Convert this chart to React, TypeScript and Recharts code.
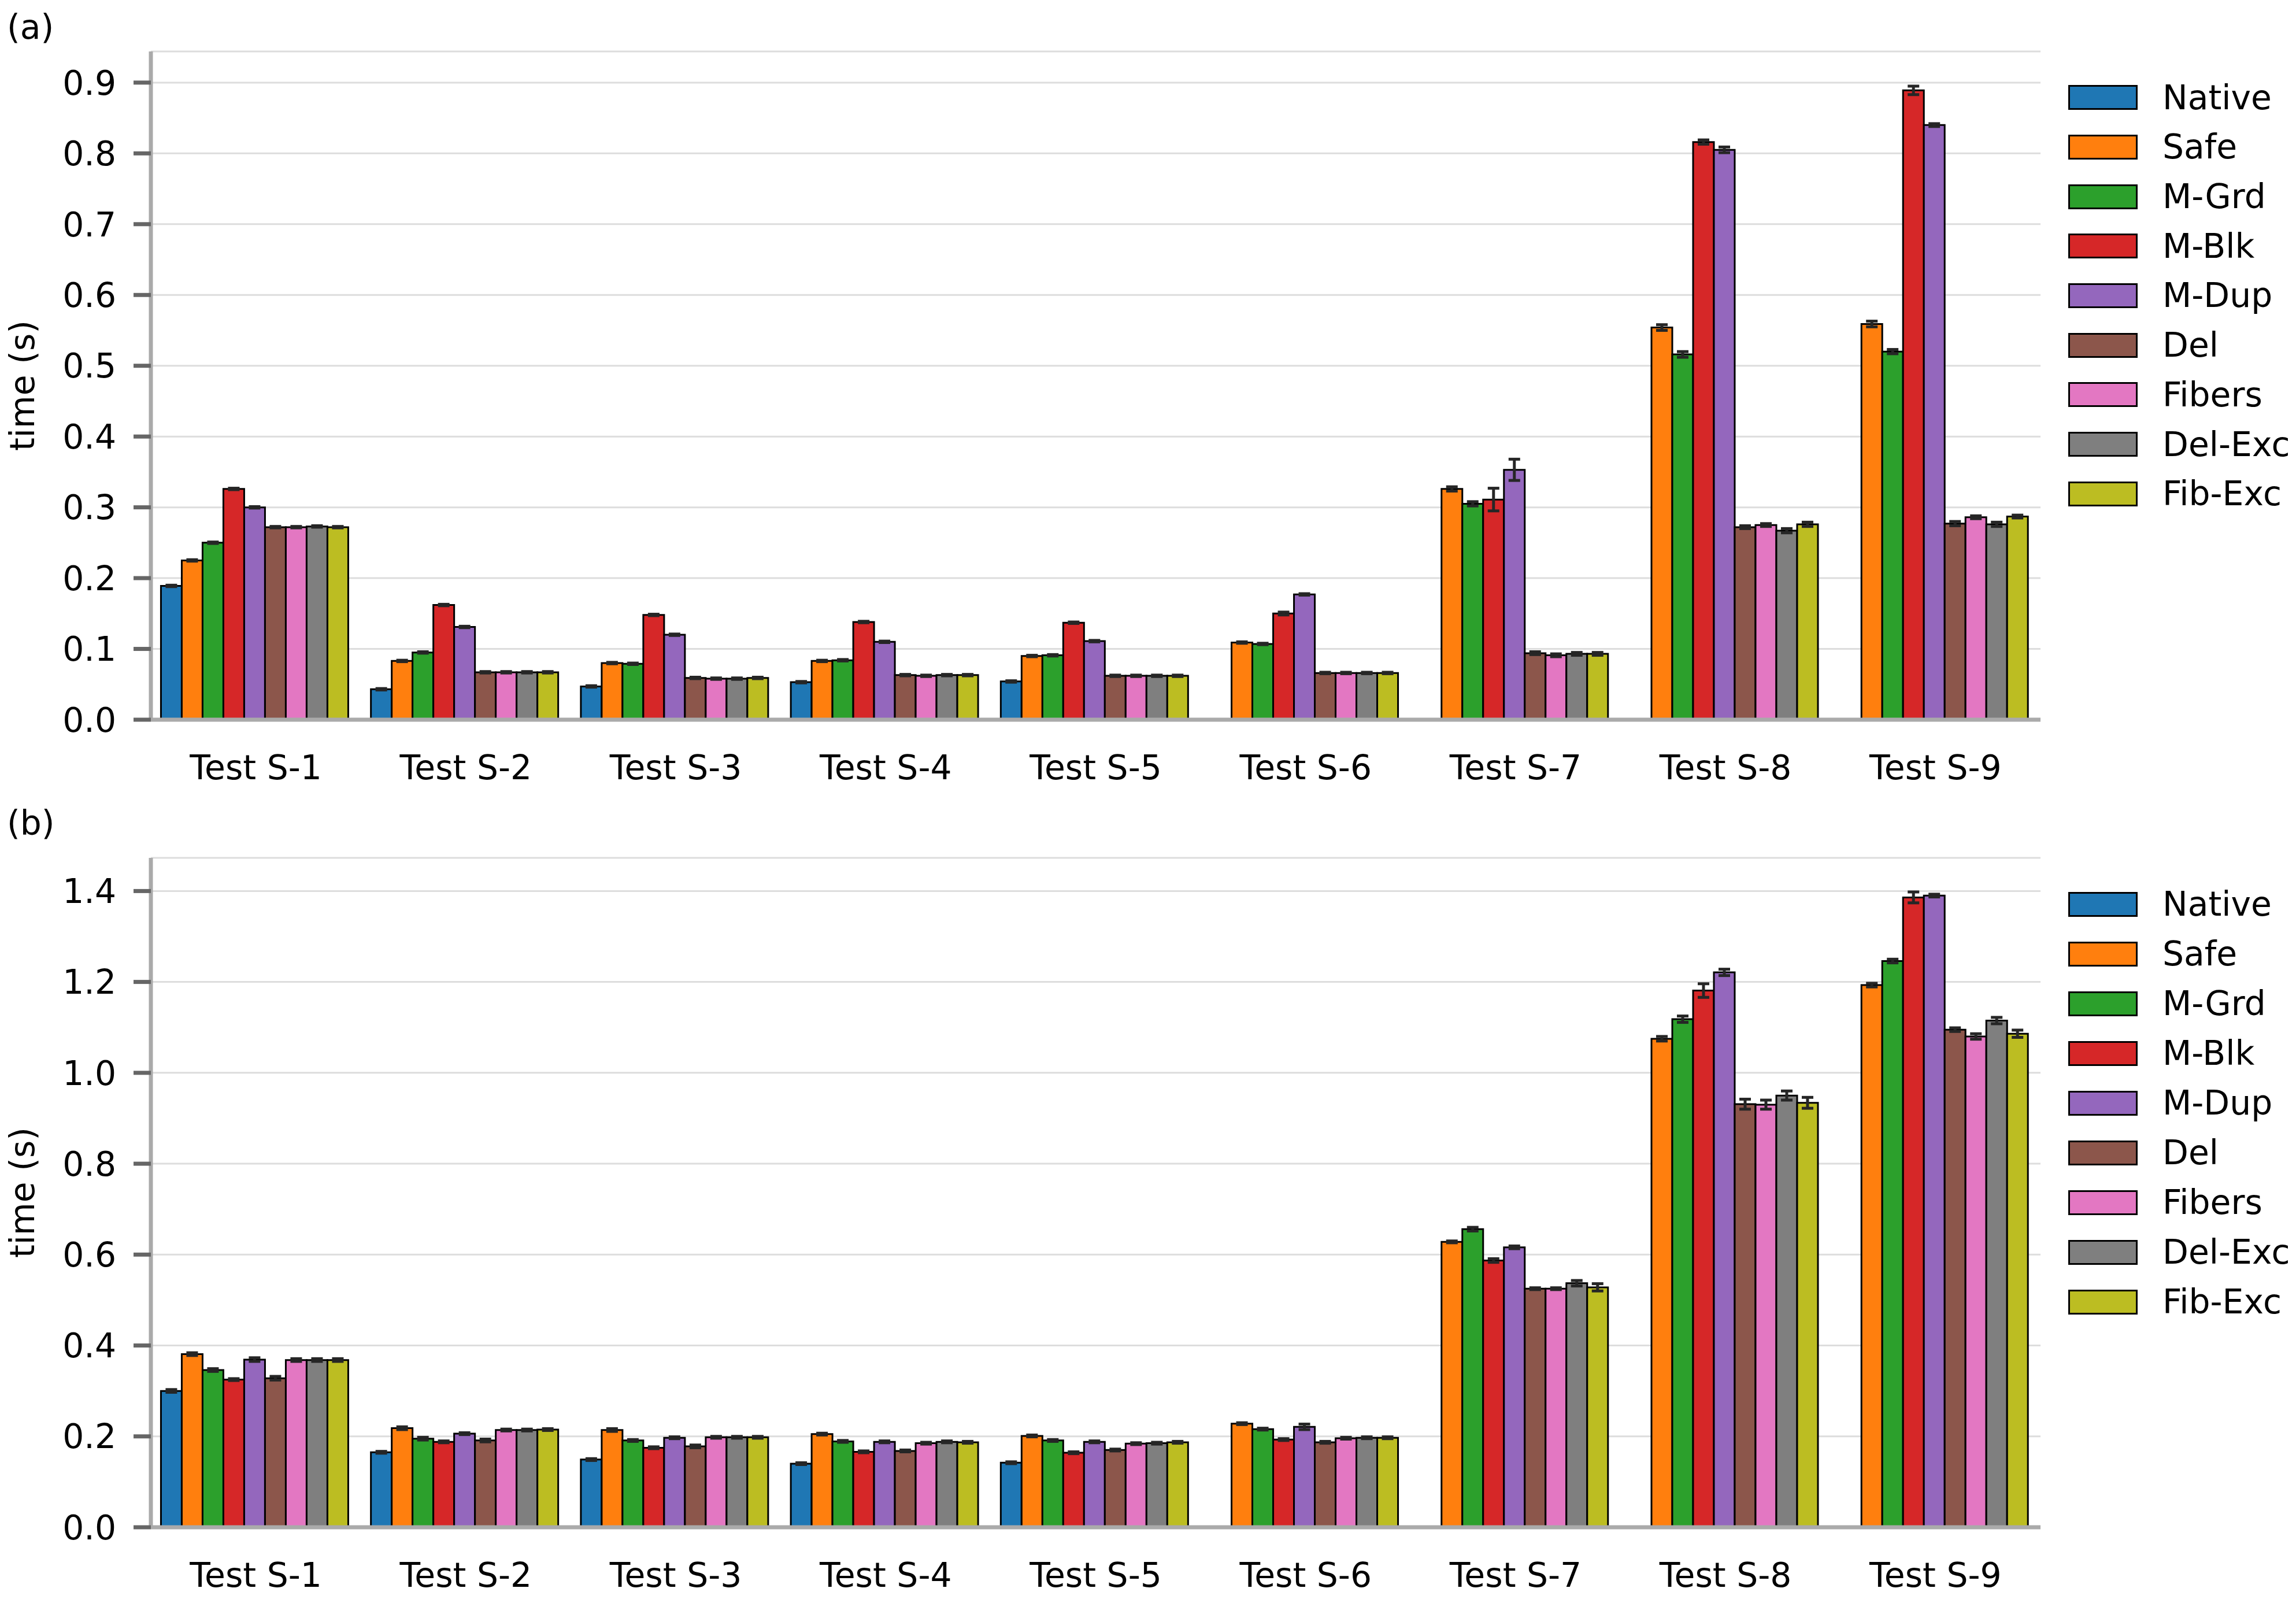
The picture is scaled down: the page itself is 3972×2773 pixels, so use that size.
import React from 'react';
import { BarChart, Bar, XAxis, YAxis, CartesianGrid, ErrorBar } from 'recharts';

// Two panels of grouped bars (mean time with error bars) for nine tests.

const FONT = '"DejaVu Sans", sans-serif';
const FONT_SIZE = 58.33;

const categories = ['Test S-1', 'Test S-2', 'Test S-3', 'Test S-4', 'Test S-5', 'Test S-6', 'Test S-7', 'Test S-8', 'Test S-9'];
const seriesNames = ['Native', 'Safe', 'M-Grd', 'M-Blk', 'M-Dup', 'Del', 'Fibers', 'Del-Exc', 'Fib-Exc'];
const seriesColors = ['#1f77b4', '#ff7f0e', '#2ca02c', '#d62728', '#9467bd', '#8c564b', '#e377c2', '#7f7f7f', '#bcbd22'];

// ---- panel (a) ----
const aTicks = [0, 0.1, 0.2, 0.3, 0.4, 0.5, 0.6, 0.7, 0.8, 0.9];
const aNative = [0.189, 0.043, 0.047, 0.053, 0.054, null, null, null, null];
const aSafe = [0.225, 0.083, 0.080, 0.083, 0.090, 0.109, 0.326, 0.554, 0.559];
const aMGrd = [0.250, 0.095, 0.079, 0.084, 0.091, 0.107, 0.305, 0.516, 0.520];
const aMBlk = [0.326, 0.162, 0.148, 0.138, 0.137, 0.150, 0.311, 0.816, 0.889];
const aMDup = [0.300, 0.131, 0.120, 0.110, 0.111, 0.177, 0.353, 0.805, 0.840];
const aDel = [0.272, 0.067, 0.059, 0.063, 0.062, 0.066, 0.094, 0.272, 0.277];
const aFibers = [0.272, 0.067, 0.058, 0.062, 0.062, 0.066, 0.091, 0.275, 0.286];
const aDelExc = [0.273, 0.067, 0.058, 0.063, 0.062, 0.066, 0.093, 0.267, 0.276];
const aFibExc = [0.272, 0.067, 0.059, 0.063, 0.062, 0.066, 0.093, 0.276, 0.287];

const aNativeErr = [0.001, 0.001, 0.001, 0.001, 0.001, null, null, null, null];
const aSafeErr = [0.001, 0.001, 0.001, 0.001, 0.001, 0.001, 0.003, 0.004, 0.004];
const aMGrdErr = [0.001, 0.001, 0.001, 0.001, 0.001, 0.001, 0.003, 0.004, 0.003];
const aMBlkErr = [0.001, 0.001, 0.001, 0.001, 0.001, 0.002, 0.016, 0.003, 0.006];
const aMDupErr = [0.001, 0.001, 0.001, 0.001, 0.001, 0.001, 0.015, 0.004, 0.002];
const aDelErr = [0.001, 0.001, 0.001, 0.001, 0.001, 0.001, 0.002, 0.002, 0.003];
const aFibersErr = [0.001, 0.001, 0.001, 0.001, 0.001, 0.001, 0.002, 0.002, 0.002];
const aDelExcErr = [0.001, 0.001, 0.001, 0.001, 0.001, 0.001, 0.002, 0.003, 0.003];
const aFibExcErr = [0.001, 0.001, 0.001, 0.001, 0.001, 0.001, 0.002, 0.003, 0.002];

// ---- panel (b) ----
const bTicks = [0, 0.2, 0.4, 0.6, 0.8, 1.0, 1.2, 1.4];
const bNative = [0.300, 0.165, 0.149, 0.140, 0.142, null, null, null, null];
const bSafe = [0.381, 0.218, 0.214, 0.205, 0.201, 0.228, 0.628, 1.075, 1.193];
const bMGrd = [0.346, 0.195, 0.191, 0.189, 0.191, 0.216, 0.656, 1.118, 1.246];
const bMBlk = [0.325, 0.188, 0.175, 0.166, 0.164, 0.193, 0.587, 1.181, 1.386];
const bMDup = [0.369, 0.206, 0.197, 0.188, 0.188, 0.221, 0.616, 1.221, 1.390];
const bDel = [0.328, 0.191, 0.178, 0.168, 0.170, 0.187, 0.525, 0.931, 1.095];
const bFibers = [0.368, 0.214, 0.198, 0.185, 0.184, 0.196, 0.525, 0.930, 1.080];
const bDelExc = [0.368, 0.214, 0.198, 0.188, 0.185, 0.197, 0.537, 0.950, 1.115];
const bFibExc = [0.368, 0.215, 0.198, 0.187, 0.187, 0.197, 0.528, 0.934, 1.086];

const bNativeErr = [0.003, 0.002, 0.002, 0.002, 0.002, null, null, null, null];
const bSafeErr = [0.003, 0.003, 0.003, 0.002, 0.002, 0.002, 0.002, 0.005, 0.004];
const bMGrdErr = [0.003, 0.003, 0.002, 0.002, 0.002, 0.002, 0.004, 0.007, 0.004];
const bMBlkErr = [0.002, 0.002, 0.002, 0.002, 0.002, 0.002, 0.004, 0.015, 0.012];
const bMDupErr = [0.004, 0.002, 0.002, 0.002, 0.002, 0.006, 0.003, 0.007, 0.003];
const bDelErr = [0.004, 0.003, 0.003, 0.002, 0.002, 0.002, 0.002, 0.011, 0.004];
const bFibersErr = [0.003, 0.002, 0.002, 0.002, 0.002, 0.002, 0.002, 0.010, 0.006];
const bDelExcErr = [0.003, 0.002, 0.002, 0.002, 0.002, 0.002, 0.006, 0.010, 0.007];
const bFibExcErr = [0.003, 0.002, 0.002, 0.002, 0.002, 0.002, 0.008, 0.012, 0.008];

type Cell = number | null;

function buildRows(means: Cell[][], errs: Cell[][]) {
  return categories.map((cat, i) => {
    const row: Record<string, string | Cell> = { name: cat };
    seriesNames.forEach((s, k) => {
      row[s] = means[k][i];
      row[s + '_err'] = errs[k][i];
    });
    return row;
  });
}

const rowsA = buildRows(
  [aNative, aSafe, aMGrd, aMBlk, aMDup, aDel, aFibers, aDelExc, aFibExc],
  [aNativeErr, aSafeErr, aMGrdErr, aMBlkErr, aMDupErr, aDelErr, aFibersErr, aDelExcErr, aFibExcErr],
);
const rowsB = buildRows(
  [bNative, bSafe, bMGrd, bMBlk, bMDup, bDel, bFibers, bDelExc, bFibExc],
  [bNativeErr, bSafeErr, bMGrdErr, bMBlkErr, bMDupErr, bDelErr, bFibersErr, bDelExcErr, bFibExcErr],
);

const textStyle = { fill: '#000', fontSize: FONT_SIZE, fontFamily: FONT };

interface PanelProps {
  rows: Record<string, string | Cell>[];
  top: number;
  height: number;
  plotTop: number;
  plotBottom: number;
  yMax: number;
  yTicks: number[];
}

const Panel: React.FC<PanelProps> = ({ rows, top, height, plotTop, plotBottom, yMax, yTicks }) => (
  <div style={{ position: 'absolute', left: 0, top }}>
    <BarChart
      width={3972}
      height={height}
      data={rows}
      margin={{ top: plotTop, right: 442, left: 61, bottom: height - plotBottom - 100 }}
      barCategoryGap="4.8%"
      barGap={0}
    >
      <CartesianGrid vertical={false} stroke="#dddddd" strokeWidth={3} />
      {seriesNames.map((s, k) => (
        <Bar key={s} dataKey={s} fill={seriesColors[k]} stroke="#000" strokeWidth={3} isAnimationActive={false}>
          <ErrorBar dataKey={s + '_err'} width={10} strokeWidth={5} stroke="#262626" direction="y" isAnimationActive={false} />
        </Bar>
      ))}
      <XAxis
        dataKey="name"
        height={100}
        interval={0}
        tickLine={false}
        tickSize={0}
        tickMargin={62}
        axisLine={{ stroke: '#aaaaaa', strokeWidth: 7 }}
        tick={textStyle}
      />
      <YAxis
        width={200}
        type="number"
        domain={[0, yMax]}
        ticks={yTicks}
        allowDataOverflow
        tickFormatter={(v: number) => v.toFixed(1)}
        tickSize={30}
        tickMargin={30}
        tickLine={{ stroke: '#666666', strokeWidth: 7 }}
        axisLine={{ stroke: '#aaaaaa', strokeWidth: 7 }}
        tick={textStyle}
      />
    </BarChart>
  </div>
);

const LegendBox: React.FC<{ firstCenter: number; step: number }> = ({ firstCenter, step }) => (
  <>
    {seriesNames.map((s, k) => (
      <div
        key={s}
        style={{
          position: 'absolute',
          left: 3578,
          top: firstCenter + k * step - step / 2,
          height: step,
          display: 'flex',
          alignItems: 'center',
        }}
      >
        <div style={{ width: 120, height: 43, boxSizing: 'border-box', border: '3px solid #000', background: seriesColors[k] }} />
        <span style={{ marginLeft: 43, fontFamily: FONT, fontSize: FONT_SIZE, lineHeight: 'normal', color: '#000', whiteSpace: 'nowrap' }}>
          {s}
        </span>
      </div>
    ))}
  </>
);

const App: React.FC = () => (
  <div style={{ position: 'absolute', left: 0, top: 0, width: 3972, height: 2773, background: '#fff', overflow: 'hidden' }}>
    <Panel rows={rowsA} top={0} height={1390} plotTop={89} plotBottom={1245} yMax={0.944} yTicks={aTicks} />
    <Panel rows={rowsB} top={1390} height={1383} plotTop={94} plotBottom={1252} yMax={1.473} yTicks={bTicks} />
    <LegendBox firstCenter={168.7} step={85.7} />
    <LegendBox firstCenter={1564} step={86} />
    <svg width={3972} height={2773} style={{ position: 'absolute', left: 0, top: 0, pointerEvents: 'none' }}>
      <text x={12} y={67} style={{ fontFamily: FONT, fontSize: FONT_SIZE }}>(a)</text>
      <text x={12} y={1444} style={{ fontFamily: FONT, fontSize: FONT_SIZE }}>(b)</text>
      <text transform="translate(59, 667) rotate(-90)" textAnchor="middle" style={{ fontFamily: FONT, fontSize: FONT_SIZE }}>
        time (s)
      </text>
      <text transform="translate(59, 2063) rotate(-90)" textAnchor="middle" style={{ fontFamily: FONT, fontSize: FONT_SIZE }}>
        time (s)
      </text>
    </svg>
  </div>
);

export default App;
